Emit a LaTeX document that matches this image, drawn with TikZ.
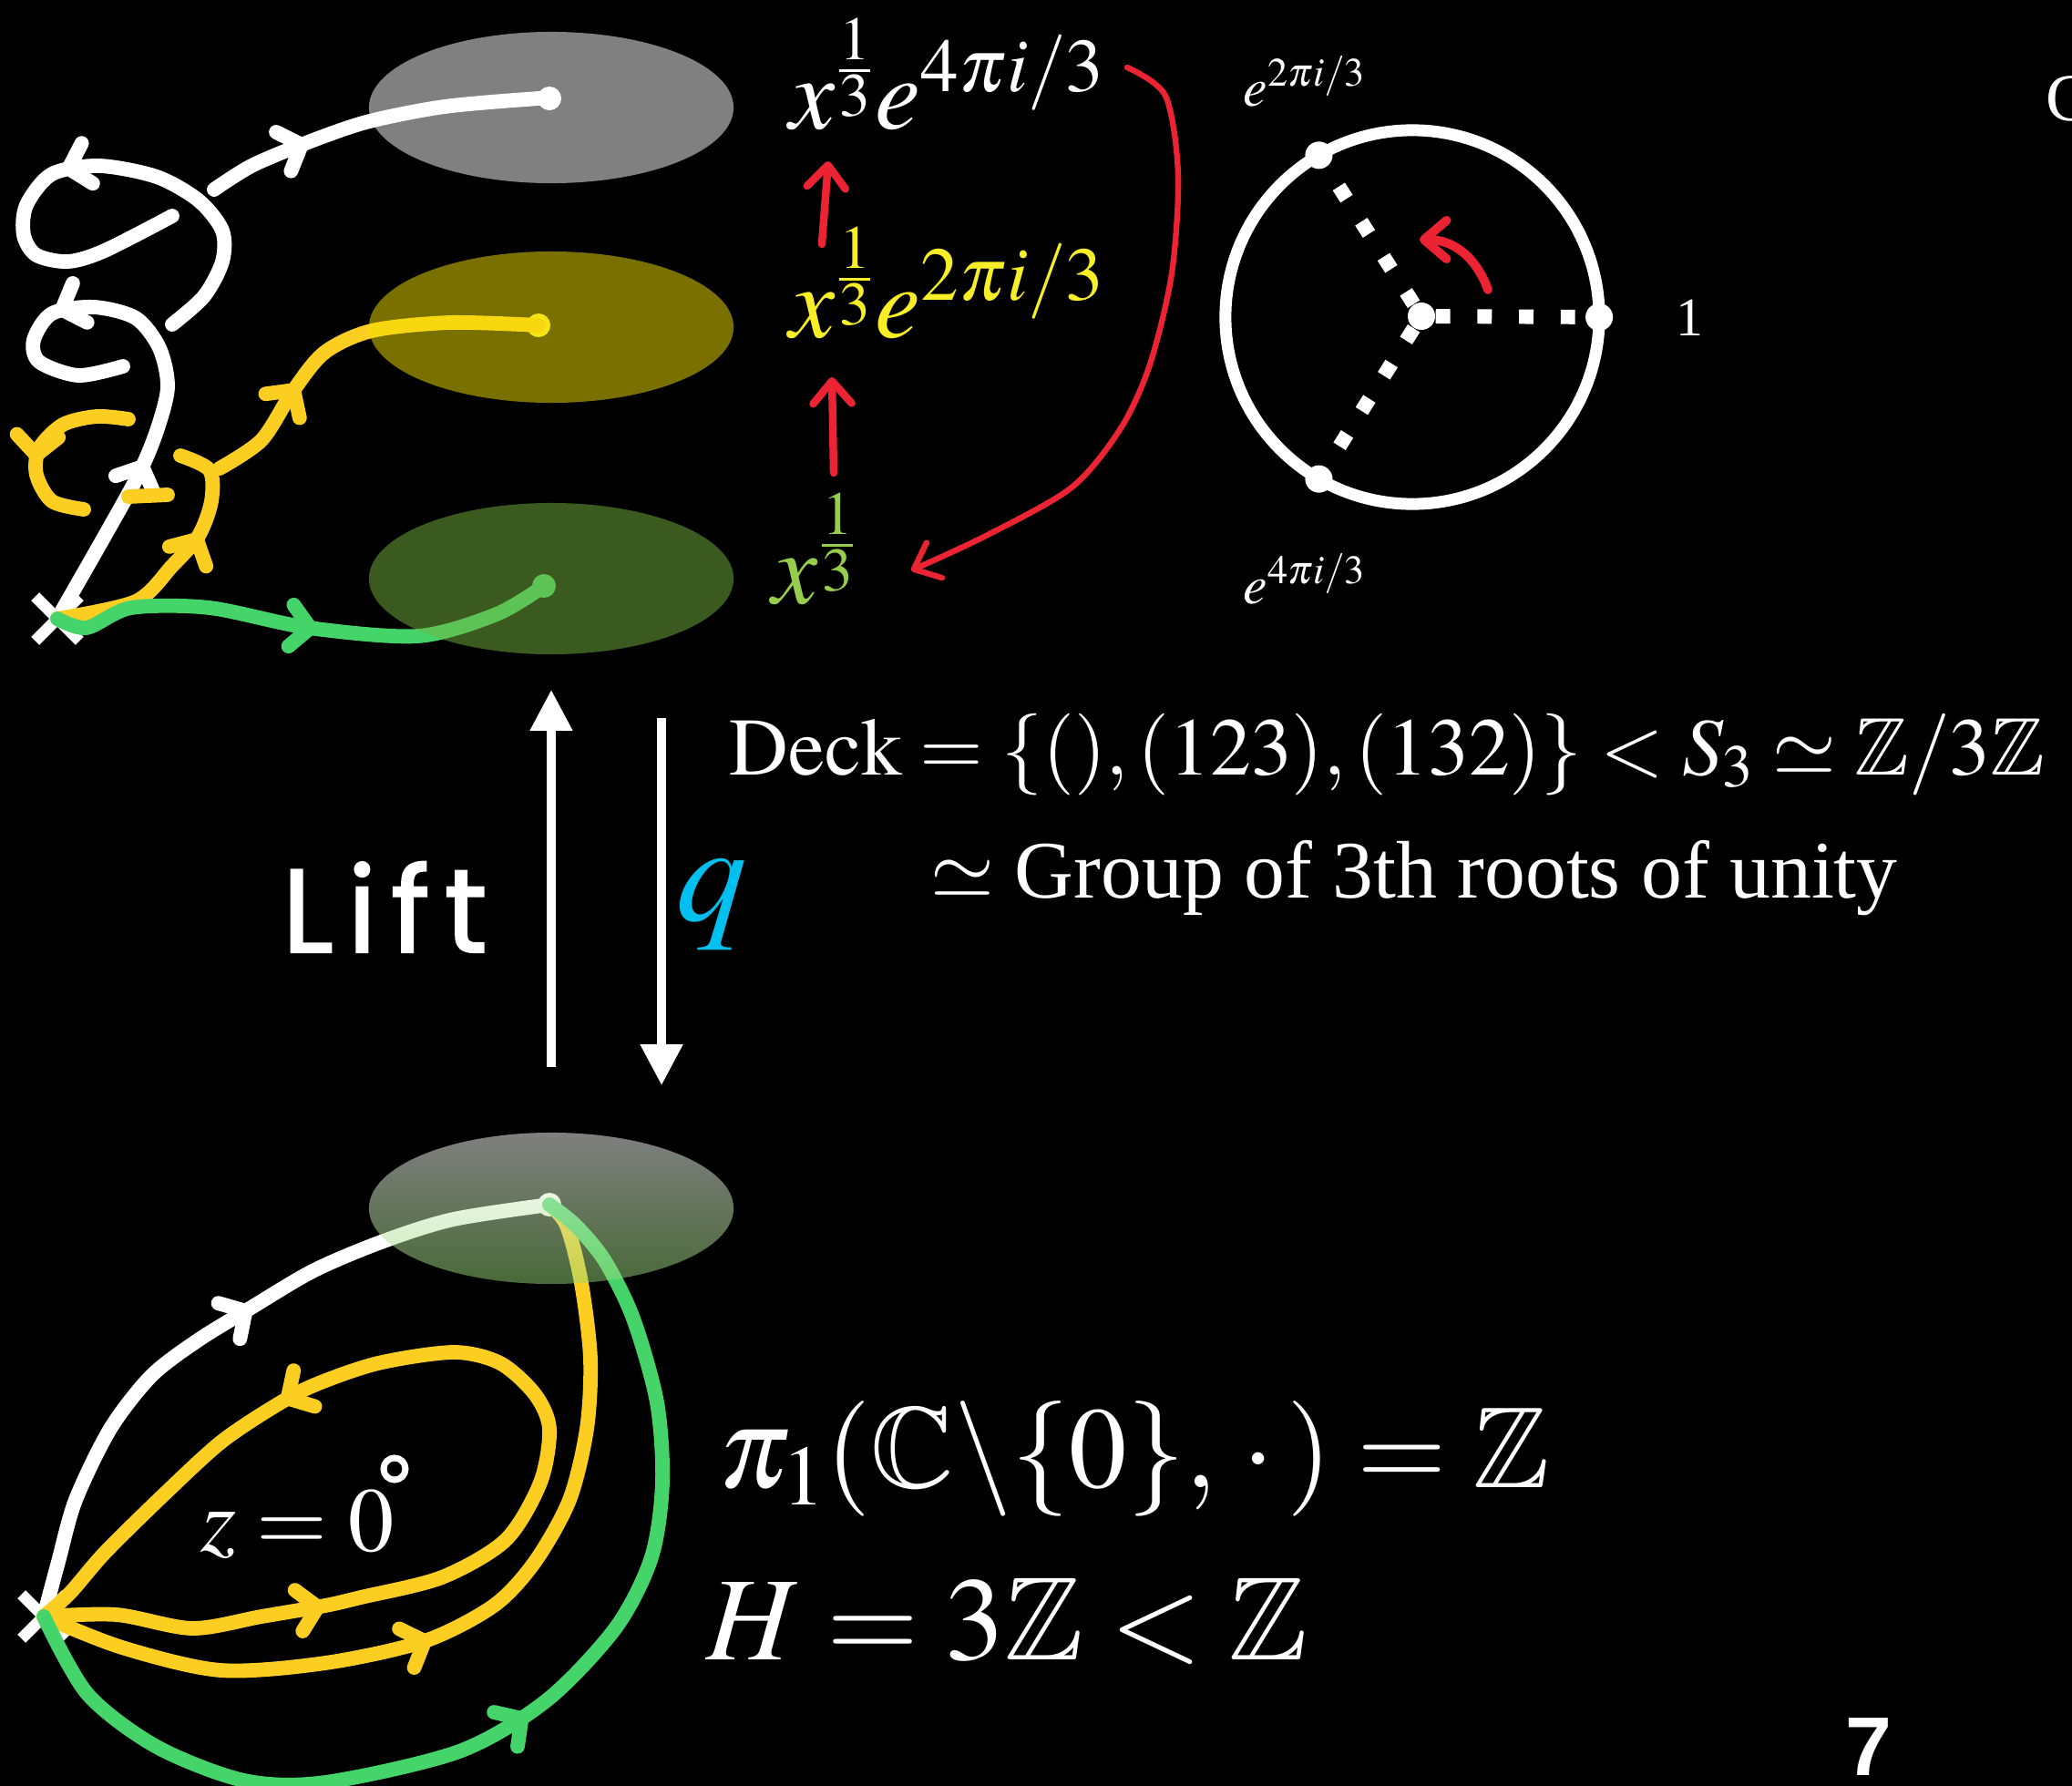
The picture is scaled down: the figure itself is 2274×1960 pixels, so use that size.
\documentclass[tikz,border=0pt]{standalone}
\usepackage{mathptmx}
\usepackage{amssymb}
\usepackage{fontspec}
\setmainfont{Liberation Serif}
\newfontfamily\handfont{Poppins}[LetterSpace=12.0,FakeBold=1.6]
\newfontfamily\numfont{Liberation Sans}
\usetikzlibrary{shapes.geometric,shapes.misc,arrows.meta,decorations.markings}

\definecolor{amarillo}{RGB}{252,206,33}
\definecolor{amarilloT}{RGB}{248,238,40}
\definecolor{verde}{RGB}{68,212,106}
\definecolor{verdeT}{RGB}{150,205,75}
\definecolor{oliva}{RGB}{244,224,0}
\definecolor{musgo}{RGB}{116,180,64}
\definecolor{musgoB}{RGB}{148,212,116}
\definecolor{rojo}{RGB}{235,35,50}
\definecolor{cian}{RGB}{0,192,240}

\begin{document}
\begin{tikzpicture}[x=0.01cm,y=-0.01cm,
  every node/.style={inner sep=0},
  trazo/.style={#1,line width=4.5pt,line cap=round,line join=round},
  dot/.style={circle,fill=#1,minimum size=0.26cm},
  disc/.style={ellipse,minimum width=4cm,minimum height=1.66cm,fill=#1,fill opacity=0.5},
  lab/.style={anchor=base west,text=#1},
  marr/.style={postaction={decorate,decoration={markings,mark=at position #1 with {\arrow{Straight Barb[round,length=6pt,width=13pt]}}}}},
  rarr/.style={rojo,line width=2.4pt,line cap=round,-{Straight Barb[round,length=7pt,width=12pt]}},
  cruz/.style={cross out,draw=white,line width=3.6pt,minimum size=0.36cm},
  lift/.style={white,line width=3pt,-{Triangle[length=12.8pt,width=12.5pt]}}]
  % Fondo
  \fill[black] (0,0) rectangle (2274,1960);
  \useasboundingbox (0,0) rectangle (2274,1960);

  % Puntos de arriba
  \node[cruz] (bT) at (63,679) {};
  \node[dot=white] (w1) at (603,108) {};
  \node[dot=amarilloT] (y1) at (591,357) {};
  \node[dot=verde] (g1) at (597,643) {};

  % Caminos de arriba (blanco)
  \draw[trazo=white,marr=0.32,marr=0.74] plot[smooth] coordinates {(bT.center) (115,588) (152,521) (172,473) (184,425) (175,382) (149,349) (103,337) (57,344) (37,373) (43,397) (86,412) (135,402)};
  \draw[trazo=white,marr=0.54] plot[smooth] coordinates {(189,356) (224,325) (244,287) (244,253) (218,220) (172,194) (109,182) (57,191) (29,225) (26,258) (40,280) (75,287) (115,275) (189,237)};
  \draw[trazo=white,marr=0.3] plot[smooth] coordinates {(235,208) (276,182) (333,158) (402,134) (488,117) (591,108) (w1.center)};

  % Caminos de arriba (amarillo)
  \draw[trazo=amarillo,marr=0.64] plot[smooth] coordinates {(bT.center) (149,660) (189,621) (218,588) (232,550) (230,516) (198,500)};
  \draw[trazo=amarillo,marr=0.6] plot[smooth] coordinates {(141,460) (106,457) (69,466) (43,492) (40,521) (57,550) (92,559)};
  \draw[trazo=amarillo] (141,545) -- (184,543);
  \draw[trazo=amarillo,marr=0.31] plot[smooth] coordinates {(241,514) (287,483) (321,430) (356,387) (408,363) (494,354) (y1.center)};

  % Camino de arriba (verde)
  \draw[trazo=verde,marr=0.53] plot[smooth] coordinates {(bT.center) (95,689) (144,667) (230,667) (339,689) (459,698) (545,674) (g1.center)};

  % Elipses de arriba
  \node[disc=white] (e1) at (605,118) {};
  \node[disc=oliva] (e2) at (605,359) {};
  \node[disc=musgo] (e3) at (605,635) {};

  % Fibras
  \node[lab=white,font=\fontsize{32}{38}\selectfont] (lW) at (866,141) {$x^{\frac{1}{3}}e^{4\pi i/3}$};
  \node[lab=amarilloT,font=\fontsize{32}{38}\selectfont] (lY) at (866,370) {$x^{\frac{1}{3}}e^{2\pi i/3}$};
  \node[lab=verdeT,font=\fontsize{32}{38}\selectfont] (lG) at (847,662) {$x^{\frac{1}{3}}$};

  % Flechas rojas
  \coordinate (a1) at (902,268);
  \coordinate (a2) at (909,177);
  \coordinate (a3) at (915,519);
  \coordinate (a4) at (913,414);
  \draw[rarr] (a1) -- (a2);
  \draw[rarr] (a3) -- (a4);
  \draw[rarr,line width=1.8pt] plot[smooth] coordinates {(1237,74) (1279,105) (1293,191) (1286,300) (1262,400) (1230,470) (1176,535) (1082,588) (1000,626)};

  % Raices de la unidad
  \node[circle,draw=white,line width=3.7pt,outer sep=0,minimum size=4.1cm] (uc) at (1550,348) {};
  \node[dot=white,minimum size=0.3cm] (c0) at (1560,347) {};
  \foreach \a/\n in {0/r0,120/r1,240/r2}
    \node[dot=white,minimum size=0.3cm] (\n) at (uc.\a) {};
  \foreach \n in {r0,r1,r2}
    \draw[white,line width=4.5pt,dash pattern=on 4.5pt off 8.5pt] (c0) -- (\n);
  \coordinate (a5) at (1633,318);
  \coordinate (a6) at (1558,263);
  \draw[rarr,line width=2.8pt] (a5) .. controls (1620,282) and (1595,263) .. (a6);
  \node[lab=white,font=\fontsize{17}{20}\selectfont] (t1) at (1364,116) {$e^{2\pi i/3}$};
  \node[lab=white,font=\fontsize{17}{20}\selectfont] (t2) at (1364,662) {$e^{4\pi i/3}$};
  \node[lab=white,font=\fontsize{17}{20}\selectfont] (t0) at (1839,368) {1};
  \node[lab=white,font=\fontsize{21}{25}\selectfont] (cc) at (2245,132) {C};

  % Puntos de abajo
  \node[cruz] (bB) at (48,1774) {};
  \node[dot=white] (w4) at (603,1322) {};

  % Caminos de abajo
  \draw[trazo=white,marr=0.55] plot[smooth] coordinates {(bB.center) (64,1714) (83,1646) (121,1568) (166,1510) (217,1471) (274,1436) (345,1394) (421,1362) (498,1338) (w4.center)};
  \draw[trazo=amarillo,marr=0.23,marr=0.74] plot[smooth] coordinates {(bB.center) (128,1772) (211,1787) (287,1774) (357,1762) (396,1753) (485,1731) (555,1690) (593,1627) (603,1568) (587,1530) (549,1496) (498,1484) (415,1496) (345,1520) (300,1544) (242,1583) (179,1641) (115,1704) (77,1748) (bB.center)};
  \draw[trazo=amarillo,marr=0.44] plot[smooth] coordinates {(bB.center) (134,1808) (242,1833) (357,1825) (466,1801) (542,1762) (587,1714) (625,1646) (644,1568) (648,1491) (638,1408) (622,1345) (w4.center)};
  \draw[trazo=verde,marr=0.49] plot[smooth] coordinates {(bB.center) (96,1859) (172,1917) (268,1954) (357,1956) (504,1922) (600,1866) (676,1786) (715,1709) (727,1627) (721,1539) (695,1447) (664,1384) (632,1345) (w4.center)};

  % Elipse de abajo
  \node[ellipse,minimum width=4cm,minimum height=1.66cm,top color=white,bottom color=musgoB,fill opacity=0.5] (e4) at (605,1326) {};

  % Levantar y proyectar
  \draw[lift,shorten <=0.71cm,shorten >=0.38cm] (e4.north) -- (e3.south);
  \draw[lift,shorten <=0.69cm,shorten >=0.51cm] ([xshift=1.21cm]e3.south) -- ([xshift=1.21cm]e4.north);
  \node[lab=white,font=\handfont\fontsize{37}{40}\selectfont] (lift) at (309,1045) {Lift};
  \node[lab=cian,font=\fontsize{44}{50}\selectfont] (q) at (742,1010) {$q$};

  % Textos
  \node[lab=white,font=\fontsize{25.5}{31}\selectfont] (deck) at (800,850) {$\mathrm{Deck}=\{(),(123),(132)\}<S_3\simeq\mathbb{Z}/3\mathbb{Z}$};
  \node[lab=white,font=\fontsize{25.5}{31}\selectfont] (grp) at (1021,985) {$\simeq$ Group of 3th roots of unity};
  \node[lab=white,font=\fontsize{28.5}{34}\selectfont] (z0) at (220,1702) {$z=0$};
  \node[circle,draw=white,line width=2pt,minimum size=0.24cm] (o0) at (433,1612) {};
  \node[lab=white,font=\fontsize{36}{43}\selectfont] (pi1) at (788,1632) {$\pi_1(\mathbb{C}\backslash\{0\},\,\cdot\,)=\mathbb{Z}$};
  \node[lab=white,font=\fontsize{37}{44}\selectfont] (hh) at (775,1821) {$H=3\mathbb{Z}<\mathbb{Z}$};
  \node[lab=white,font=\numfont\bfseries\fontsize{26}{30}\selectfont] (pg) at (2025,1948) {7};
\end{tikzpicture}
\end{document}
